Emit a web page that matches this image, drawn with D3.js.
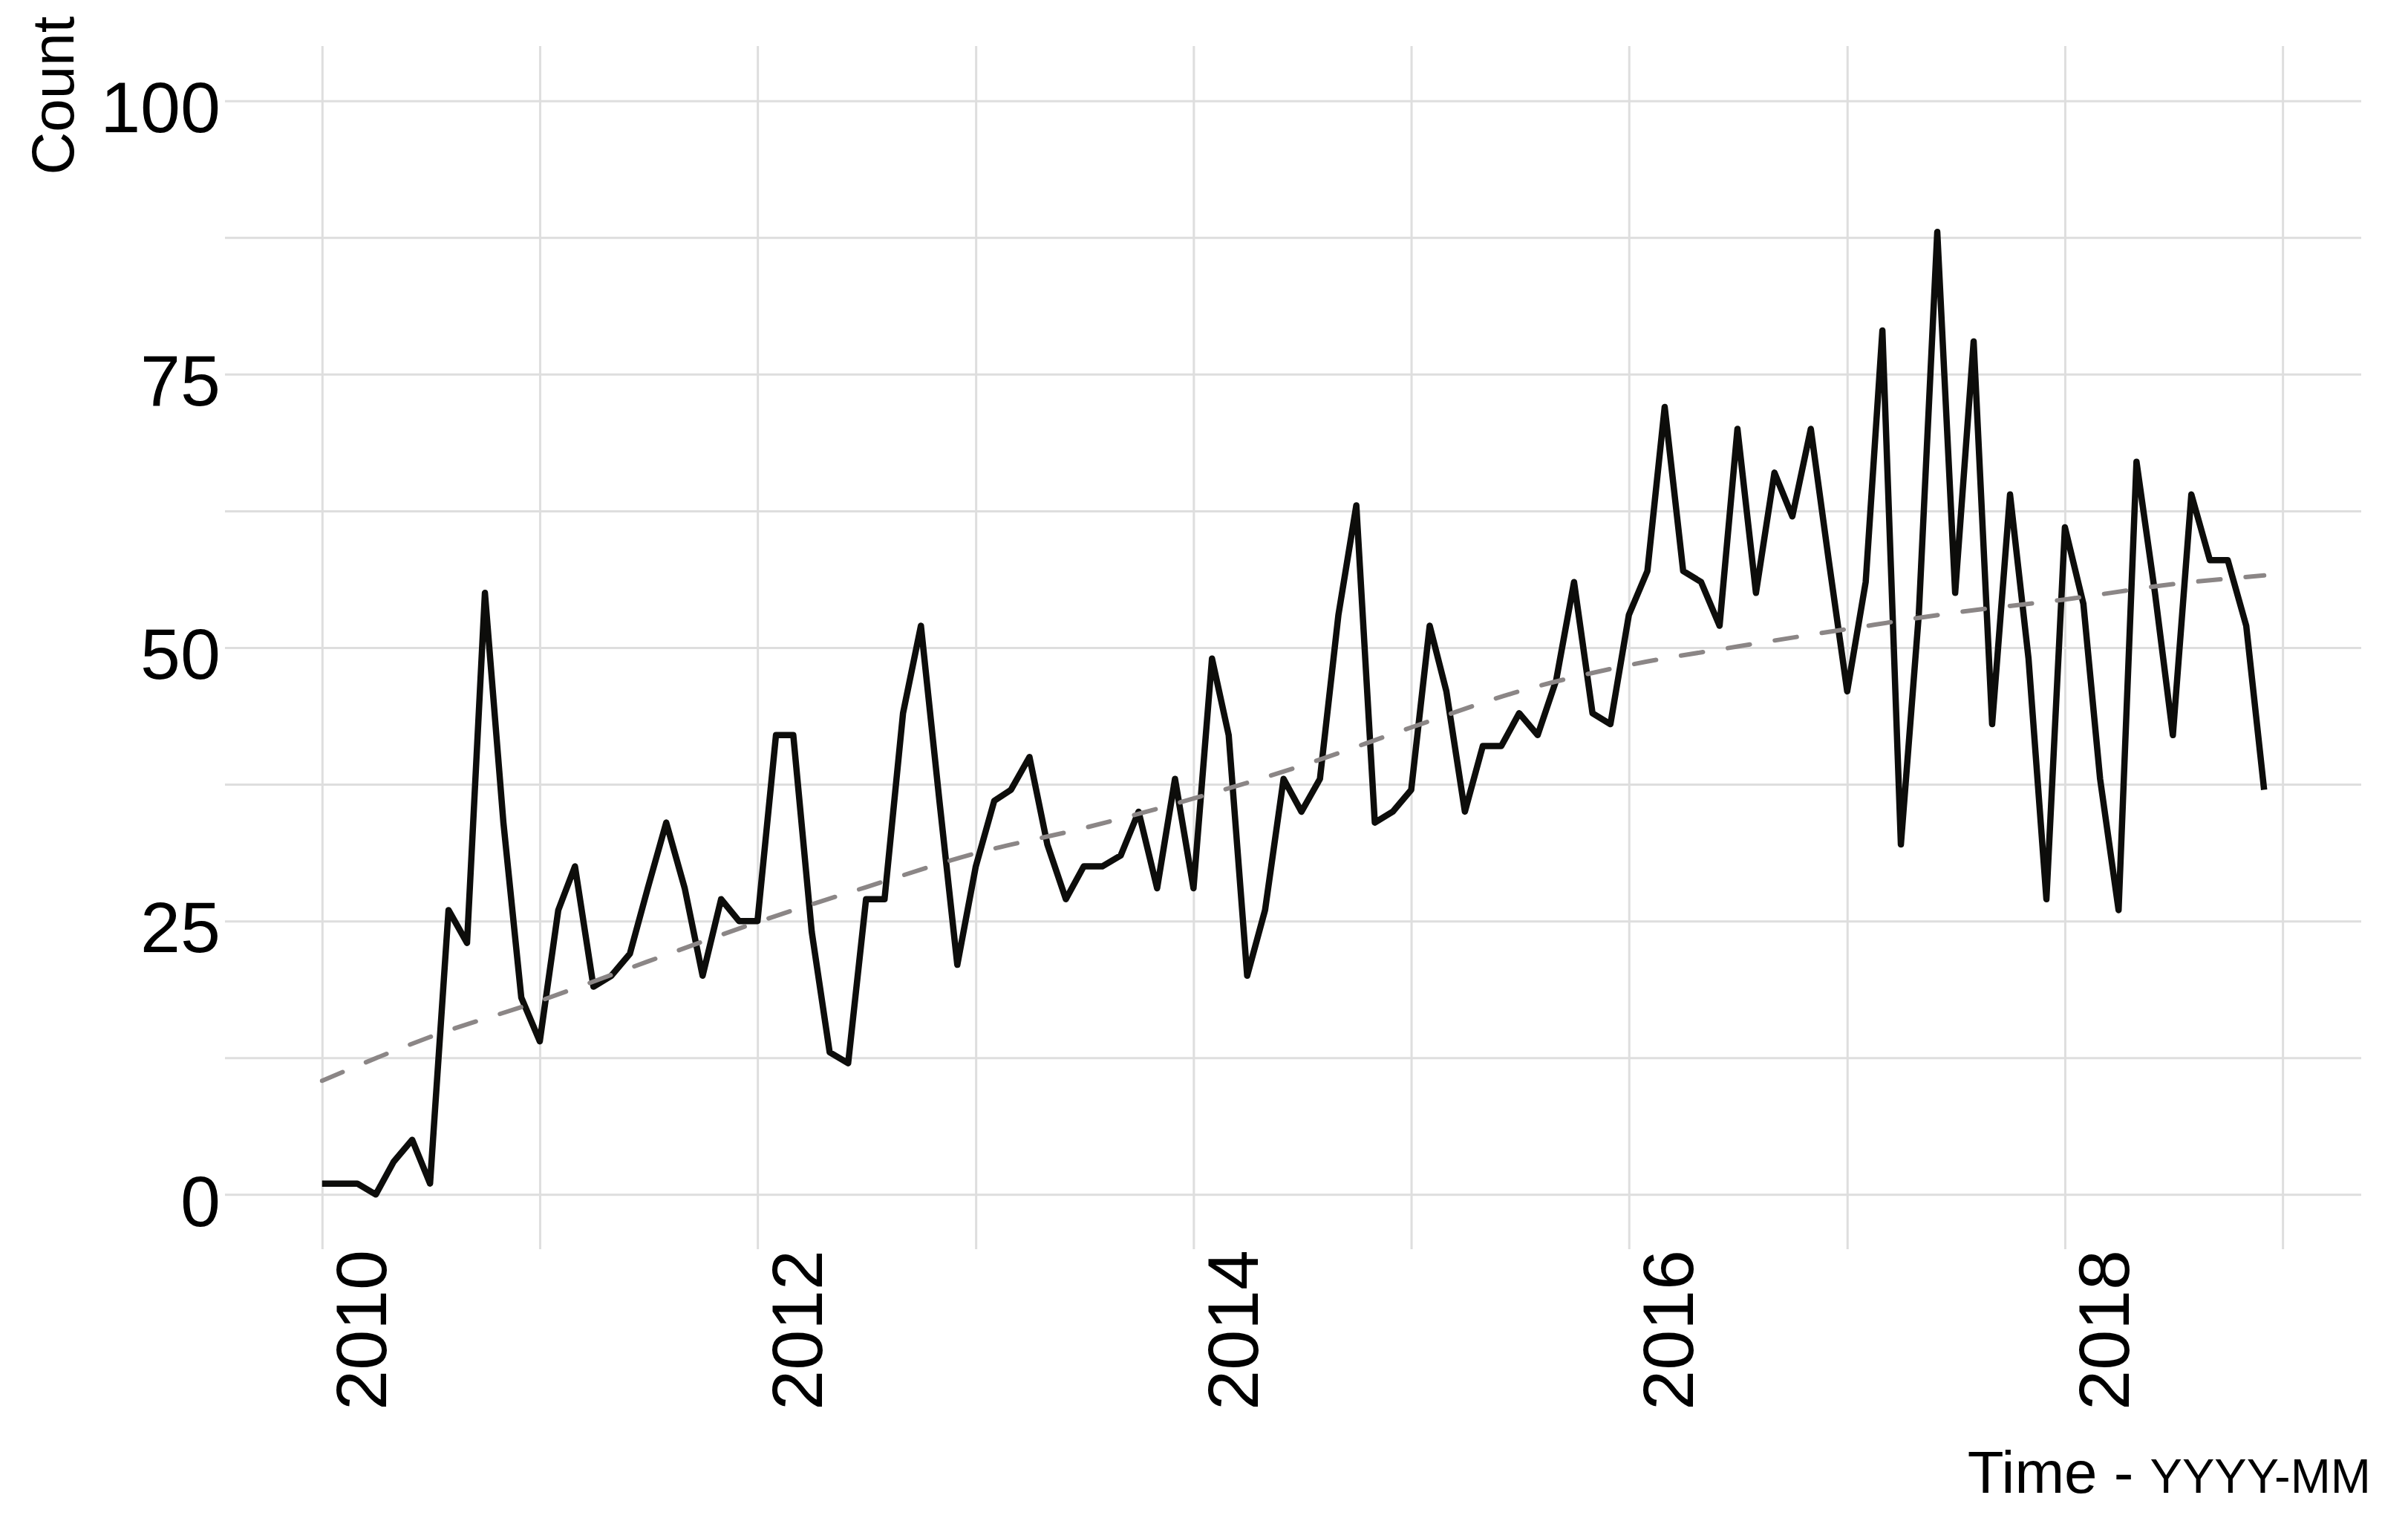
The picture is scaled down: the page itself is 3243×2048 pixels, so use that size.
<!DOCTYPE html>
<html>
<head>
<meta charset="utf-8">
<script src="https://cdn.jsdelivr.net/npm/d3@7"></script>
<style>
body { margin: 0; background: #fff; }
svg { display: block; font-family: "Liberation Sans", Arial, Helvetica, sans-serif; }
</style>
</head>
<body>
<div class="chart"></div>
<script>
// Monthly counts, first value is 2010-01
const START_MONTH = '2010-01'
const COUNTS = [
    1, 1, 1, 0, 3, 5, 1, 26, 23, 55, 34, 18,
    14, 26, 30, 19, 20, 22, 28, 34, 28, 20, 27, 25,
    25, 42, 42, 24, 13, 12, 27, 27, 44, 52, 36, 21,
    30, 36, 37, 40, 32, 27, 30, 30, 31, 35, 28, 38,
    28, 49, 42, 20, 26, 38, 35, 38, 53, 63, 34, 35,
    37, 52, 46, 35, 41, 41, 44, 42, 47, 56, 44, 43,
    53, 57, 72, 57, 56, 52, 70, 55, 66, 62, 70, 58,
    46, 56, 79, 32, 53, 88, 55, 78, 43, 64, 49, 27,
    61, 54, 38, 26, 67, 55, 42, 64, 58, 58, 52, 37
]

// Smoothed trend (dashed)
const TREND_MONTHS = ['2010-01', '2010-07', '2011-01', '2011-07', '2012-01', '2012-07',
    '2013-01', '2013-07', '2014-01', '2014-07', '2015-01', '2015-07', '2016-01',
    '2016-07', '2017-01', '2017-07', '2018-01', '2018-07', '2018-12']
const TREND_VALUES = [10.4, 14.4, 17.7, 21.3, 24.9, 28.1, 31.2, 33.5, 36.2, 39.2,
    42.7, 46.0, 48.4, 50.1, 51.7, 53.2, 54.4, 55.8, 56.6]

const X_LABEL_YEARS = [2010, 2012, 2014, 2016, 2018]
const X_GRID_YEARS = [2010, 2011, 2012, 2013, 2014, 2015, 2016, 2017, 2018, 2019]
const Y_TICKS = [0, 25, 50, 75, 100]
const Y_GRID = [0, 12.5, 25, 37.5, 50, 62.5, 75, 87.5, 100]

const parseMonth = d3.timeParse('%Y-%m')
const start = parseMonth(START_MONTH)
const series = COUNTS.map((v, i) => ({ date: d3.timeMonth.offset(start, i), value: v }))
const trend = TREND_MONTHS.map((m, i) => ({ date: parseMonth(m), value: TREND_VALUES[i] }))

const svgWidth = 3243
const svgHeight = 2048
const panel = { left: 303, right: 3180, top: 62, bottom: 1682 }
const gridColor = '#dedede'

const svg = d3.select('.chart').append('svg')
    .attr('width', svgWidth)
    .attr('height', svgHeight)

// ggplot-style 5% expansion on both axes
const first = series[0].date
const last = series[series.length - 1].date
const pad = (last - first) * 0.05
const xScale = d3.scaleTime()
    .domain([new Date(+first - pad), new Date(+last + pad)])
    .range([panel.left, panel.right])
const yScale = d3.scaleLinear()
    .domain([-5, 105])
    .range([panel.bottom, panel.top])

// Grid
const xGrid = svg.append('g')
    .attr('transform', `translate(0, ${panel.top})`)
    .attr('color', gridColor)
    .call(d3.axisBottom(xScale)
        .tickValues(X_GRID_YEARS.map(y => new Date(y, 0, 1)))
        .tickSize(panel.bottom - panel.top)
        .tickFormat(''))
xGrid.select('.domain').remove()
xGrid.selectAll('line').attr('stroke-width', 3)

const yGrid = svg.append('g')
    .attr('transform', `translate(${panel.left}, 0)`)
    .attr('color', gridColor)
    .call(d3.axisLeft(yScale)
        .tickValues(Y_GRID)
        .tickSize(-(panel.right - panel.left))
        .tickFormat(''))
yGrid.select('.domain').remove()
yGrid.selectAll('line').attr('stroke-width', 3)

// Y axis labels
const yAxis = svg.append('g')
    .attr('transform', `translate(${panel.left}, 0)`)
    .call(d3.axisLeft(yScale).tickValues(Y_TICKS).tickSize(0))
yAxis.select('.domain').remove()
yAxis.selectAll('text')
    .attr('x', -6)
    .attr('dy', '0.43em')
    .attr('fill', '#000')
    .attr('font-size', '97px')
    .attr('font-family', '"Liberation Sans", Arial, sans-serif')

// X axis labels, rotated
const xAxis = svg.append('g')
    .attr('transform', `translate(0, ${panel.bottom})`)
    .call(d3.axisBottom(xScale)
        .tickValues(X_LABEL_YEARS.map(y => new Date(y, 0, 1)))
        .tickSize(0)
        .tickFormat(d3.timeFormat('%Y')))
xAxis.select('.domain').remove()
xAxis.selectAll('text')
    .attr('transform', 'rotate(-90)')
    .attr('text-anchor', 'end')
    .attr('x', -1)
    .attr('y', 86)
    .attr('dy', 0)
    .attr('fill', '#000')
    .attr('font-size', '97px')
    .attr('font-family', '"Liberation Sans", Arial, sans-serif')

// Data line
const line = d3.line()
    .x(d => xScale(d.date))
    .y(d => yScale(d.value))

svg.append('path')
    .datum(series)
    .attr('d', line)
    .attr('fill', 'none')
    .attr('stroke', '#0d0d0b')
    .attr('stroke-width', 8.5)
    .attr('stroke-linejoin', 'round')

// Trend line
svg.append('path')
    .datum(trend)
    .attr('d', line.curve(d3.curveMonotoneX))
    .attr('fill', 'none')
    .attr('stroke', '#8b8686')
    .attr('stroke-width', 6)
    .attr('stroke-linecap', 'round')
    .attr('stroke-dasharray', '30,34')

// Axis titles
svg.append('text')
    .attr('transform', 'translate(99, 22) rotate(-90)')
    .attr('text-anchor', 'end')
    .attr('font-size', '80px')
    .attr('fill', '#000')
    .text('Count')

const xTitle = svg.append('text')
    .attr('x', 3193)
    .attr('y', 2010)
    .attr('text-anchor', 'end')
    .attr('fill', '#000')
xTitle.append('tspan').attr('font-size', '80px').text('Time - ')
xTitle.append('tspan').attr('font-size', '65px').text('YYYY-MM')
</script>
</body>
</html>
